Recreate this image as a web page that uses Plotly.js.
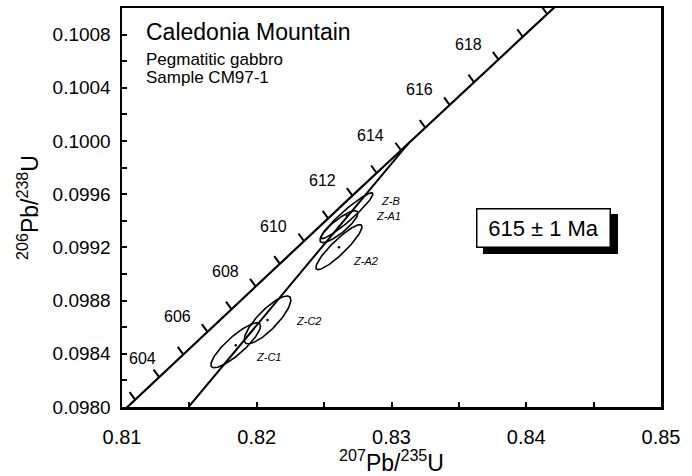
<!DOCTYPE html>
<html>
<head>
<meta charset="utf-8">
<script src="https://cdn.plot.ly/plotly-3.0.1.min.js"></script>
<style>html,body{margin:0;padding:0;background:#fff;}#chart{width:692px;height:476px;}</style>
</head>
<body>
<div id="chart"></div>
<script>
// Concordia curve, ages in Ma and their ratios
const concordiaAges = [602,603,604,605,606,607,608,609,610,611,612,613,614,615,616,617,618,619,620,621];
const concordiaX = [0.809191,0.810974,0.812757,0.814544,0.816332,0.818122,0.819913,0.821707,0.823502,0.825299,0.827098,0.828899,0.830701,0.832505,0.834311,0.836119,0.837928,0.839740,0.841553,0.843367];
const concordiaY = [0.0978847,0.0980550,0.0982253,0.0983957,0.0985661,0.0987365,0.0989069,0.0990774,0.0992479,0.0994184,0.0995890,0.0997596,0.0999302,0.1001009,0.1002716,0.1004423,0.1006131,0.1007839,0.1009547,0.1011256];
const tickAges = [603,604,605,606,607,608,609,610,611,612,613,614,615,616,617,618,619,620];
const labelAges = [604,606,608,610,612,614,616,618];

// Discordia chord (lower point at plot bottom, upper end where it joins the concordia)
const discordiaX = [0.81494, 0.83124];
const discordiaY = [0.0980, 0.099981];

// Analyses: 2-sigma error ellipses
const fracNames = ['Z-B','Z-A1','Z-A2','Z-C2','Z-C1'];
const fracX    = [0.82669, 0.82610, 0.82610, 0.82080, 0.81844];
const fracY    = [0.099438,0.099356,0.099202,0.098655,0.098464];
const fracErrX = [0.00193, 0.00141, 0.00171, 0.00173, 0.00184];
const fracErrY = [0.000172,0.000120,0.000169,0.000180,0.000169];
const fracRho  = [0.95, 0.85, 0.905, 0.83, 0.86];
const fracLabelX = [0.82996,0.82981,0.82810,0.82387,0.82089];
const fracLabelY = [0.099551,0.099438,0.099101,0.098644,0.098375];

const xRange = [0.81, 0.85];
const yRange = [0.0980, 0.1010];
const W = 692, H = 476;
const M = {l:122, r:31, t:8, b:69};
const pw = W - M.l - M.r, ph = H - M.t - M.b;
const pxX = pw / (xRange[1]-xRange[0]);
const pxY = ph / (yRange[1]-yRange[0]);

const traces = [];
// concordia
traces.push({x: concordiaX, y: concordiaY, mode:'lines', line:{color:'#000', width:2.2}, hoverinfo:'skip'});
// concordia age ticks
const tkx = [], tky = [];
tickAges.forEach(a => {
  const i = concordiaAges.indexOf(a);
  tkx.push(concordiaX[i], concordiaX[i] - 5.5/pxX, null);
  tky.push(concordiaY[i], concordiaY[i] + 7.5/pxY, null);
});
traces.push({x: tkx, y: tky, mode:'lines', line:{color:'#000', width:2}, hoverinfo:'skip'});
// discordia
traces.push({x: discordiaX, y: discordiaY, mode:'lines', line:{color:'#000', width:2}, hoverinfo:'skip'});
// ellipses
for (let k = 0; k < fracNames.length; k++) {
  const ex = [], ey = [];
  const r = fracRho[k], s = Math.sqrt(1 - r*r);
  for (let j = 0; j <= 120; j++) {
    const t = 2*Math.PI*j/120;
    ex.push(fracX[k] + fracErrX[k]*Math.cos(t));
    ey.push(fracY[k] + fracErrY[k]*(r*Math.cos(t) + s*Math.sin(t)));
  }
  traces.push({x: ex, y: ey, mode:'lines', line:{color:'#000', width:1.6}, hoverinfo:'skip'});
}
traces.push({x: fracX, y: fracY, mode:'markers', marker:{color:'#000', size:2.5}, hoverinfo:'skip'});

const tf = 'Liberation Sans, Arial, sans-serif';
const ann = [];
labelAges.forEach(a => {
  const i = concordiaAges.indexOf(a);
  const first = a === 604;
  ann.push({x: concordiaX[i], y: concordiaY[i], xref:'x', yref:'y', text: String(a), showarrow:false,
    xanchor:'center', yanchor:'middle',
    xshift: first ? -17 : -30, yshift: first ? 19 : 15,
    font:{family:tf, size:16, color:'#000'}});
});
fracNames.forEach((n,k) => {
  ann.push({x: fracLabelX[k], y: fracLabelY[k], xref:'x', yref:'y', text: '<i>'+n+'</i>', showarrow:false,
    xanchor:'center', yanchor:'middle',
    font:{family:tf, size:11, color:'#000'}});
});
ann.push({xref:'paper', yref:'paper', x:0.041, y:0.94, xanchor:'left', yanchor:'middle', showarrow:false,
  text:'Caledonia Mountain', font:{family:tf, size:23, color:'#000'}});
ann.push({xref:'paper', yref:'paper', x:0.041, y:0.870, xanchor:'left', yanchor:'middle', showarrow:false,
  text:'Pegmatitic gabbro', font:{family:tf, size:17, color:'#000'}});
ann.push({xref:'paper', yref:'paper', x:0.041, y:0.826, xanchor:'left', yanchor:'middle', showarrow:false,
  text:'Sample CM97-1', font:{family:tf, size:17, color:'#000'}});
// result box with drop shadow
const boxText = '615 ± 1 Ma';
ann.push({xref:'paper', yref:'paper', x:0.782, y:0.449, xanchor:'center', yanchor:'middle', xshift:7, yshift:-6, showarrow:false, text:'&nbsp;',
  font:{family:tf, size:22, color:'#000'}, bgcolor:'#000', bordercolor:'#000', borderwidth:1.5, borderpad:2, width:128, height:33});
ann.push({xref:'paper', yref:'paper', x:0.782, y:0.449, xanchor:'center', yanchor:'middle', showarrow:false, text:boxText,
  font:{family:tf, size:22, color:'#000'}, bgcolor:'#fff', bordercolor:'#000', borderwidth:1.5, borderpad:2, width:128, height:33});

const layout = {
  width:W, height:H, margin:M, showlegend:false,
  paper_bgcolor:'#fff', plot_bgcolor:'#fff',
  xaxis:{range:xRange, dtick:0.01, tick0:0.81, tickformat:'.2f', ticks:'inside', ticklen:5, tickwidth:2, tickcolor:'#000',
    minor:{dtick:0.005, ticks:'inside', ticklen:5, tickwidth:2, tickcolor:'#000'},
    showline:true, linewidth:2.5, linecolor:'#000', mirror:true, showgrid:false, zeroline:false,
    ticklabelstandoff:10, tickfont:{family:tf, size:20, color:'#000'},
    title:{text:'<sup>207</sup>Pb/<sup>235</sup>U', font:{family:tf, size:23, color:'#000'}, standoff:4}},
  yaxis:{range:yRange, dtick:0.0004, tick0:0.0980, tickformat:'.4f', ticks:'inside', ticklen:5, tickwidth:2, tickcolor:'#000',
    minor:{dtick:0.0002, ticks:'inside', ticklen:5, tickwidth:2, tickcolor:'#000'},
    showline:true, linewidth:2.5, linecolor:'#000', mirror:true, showgrid:false, zeroline:false,
    ticklabelstandoff:5, tickfont:{family:tf, size:19, color:'#000'},
    title:{text:'<sup>206</sup>Pb/<sup>238</sup>U', font:{family:tf, size:23, color:'#000'}, standoff:8}},
  annotations: ann
};
Plotly.newPlot('chart', traces, layout, {staticPlot:true, displayModeBar:false});
</script>
</body>
</html>
